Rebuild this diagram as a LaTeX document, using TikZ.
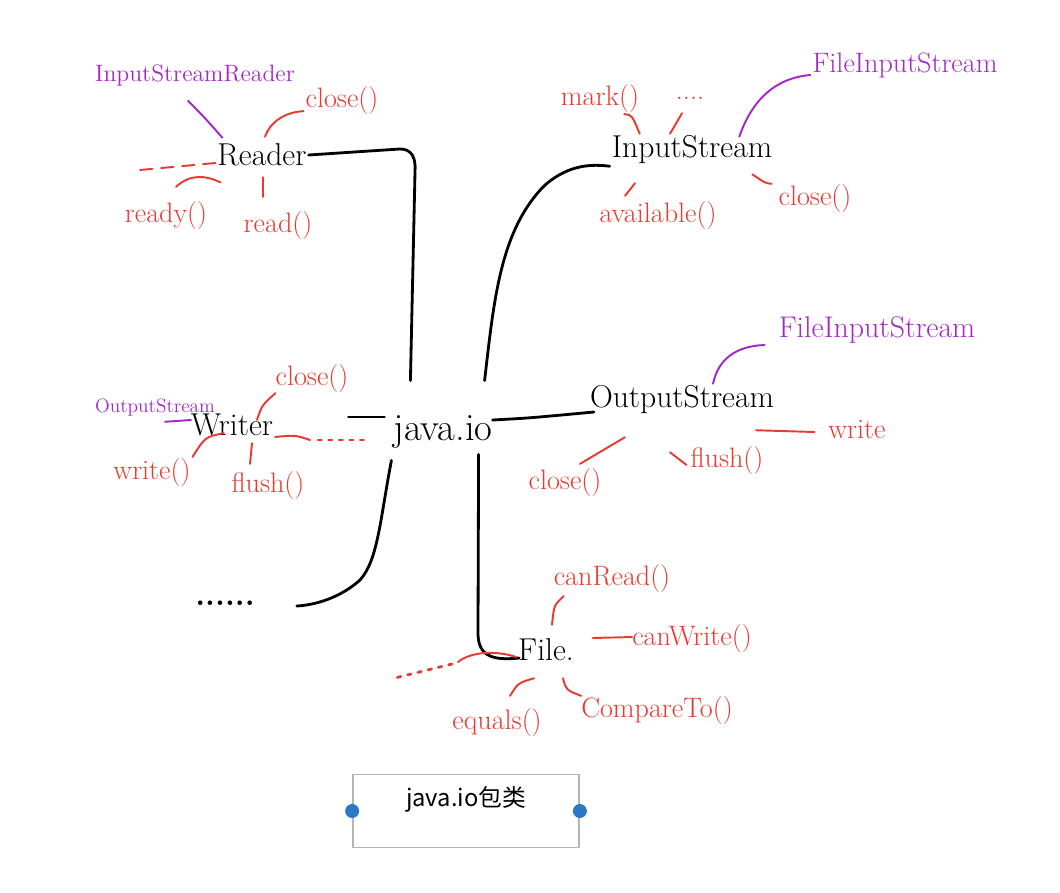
\documentclass[tikz,border=0pt]{standalone}
\usepackage{fontspec}
\newfontfamily\cjk{Noto Sans CJK SC}
\usetikzlibrary{calc}
\definecolor{hred}{RGB}{232,58,48}
\definecolor{hpurple}{RGB}{162,40,200}
\definecolor{boxgray}{RGB}{180,180,180}
\definecolor{dotblue}{RGB}{42,120,200}

\begin{document}
\begin{tikzpicture}[x=0.02cm, y=-0.02cm, line join=round, line cap=round,
    main/.style={font=\fontsize{18}{20}\selectfont, inner sep=1pt},
    meth/.style={text=hred, font=\fontsize{16}{18}\selectfont, inner sep=1pt},
    sub/.style={text=hpurple, font=\fontsize{15}{17}\selectfont, inner sep=1pt},
    blk/.style={line width=1.6pt},
    rl/.style={hred, line width=1.1pt},
    pl/.style={hpurple, line width=1.1pt},
    dotted red/.style={hred, line width=1.6pt, dash pattern=on 2pt off 4pt}]
\useasboundingbox (0,0) rectangle (1060,892);

% centre and its branches
\node[main, font=\fontsize{22}{24}\selectfont] (java) at (443,432) {java.io};
\node[main] (reader) at (262,155) {Reader};
\node[main] (instream) at (692,150) {InputStream};
\node[main] (outstream) at (682,400) {OutputStream};
\node[main] (writer) at (232,425) {Writer};
\node[main, font=\bfseries\fontsize{18}{20}\selectfont] (more) at (225,603) {......};
\node[main] (file) at (546,650) {File.};

\draw[blk] (reader.east) -- (400,149) .. controls (412,149) and (416,158) .. (415,172)
  -- ($(java.north west)+(19,-33)$);
\draw[blk] ($(java.north east)+(-10,-33)$) .. controls (494,300) and (500,230) .. (545,185)
  .. controls (565,168) and (585,163) .. (instream.south west);
\draw[blk] ($(java.east)+(-2,-12)$) .. controls (530,418) .. ($(outstream.west)+(6,12)$);
\draw[blk] ($(java.west)+(-7,-15)$) -- ($(java.west)+(-43,-15)$);
\draw[blk] ($(java.south west)+(0,10)$) .. controls (380,520) and (378,560) .. (360,580)
  .. controls (340,598) and (315,605) .. ($(more.east)+(40,3)$);
\draw[blk] ($(java.south east)+(-16,4)$) -- (478,630) .. controls (477,655) and (490,661)
  .. ($(file.west)+(3,8)$);

% Reader
\node[meth] (rclose) at (342,100) {close()};
\node[meth] (rready) at (166,215) {ready()};
\node[meth] (rread) at (278,225) {read()};
\node[sub, font=\fontsize{13.5}{15}\selectfont] (rsub) at (195,75) {InputStreamReader};
\coordinate (rdots) at (140,170);
\draw[rl] ($(reader.north)+(3,-5)$) .. controls (270,122) and (285,112) .. ($(rclose.south west)+(0,-5)$);
\draw[rl] ($(reader.south west)+(5,14)$) .. controls (205,175) and (190,174) .. ($(rready.north)+(10,-12)$);
\draw[rl] ($(reader.south)+(1,9)$) -- ($(rread.north)+(-15,-12)$);
\draw[rl, dash pattern=on 7pt off 5pt] ($(reader.west)+(0,8)$) -- (rdots);
\draw[pl] ($(reader.north west)+(7,-4)$) .. controls (205,118) .. ($(rsub.south)+(-7,13)$);

% InputStream
\node[meth] (imark) at (600,98) {mark()};
\node[meth] (idots) at (690,98) {....};
\node[sub, font=\fontsize{16}{18}\selectfont] (isub) at (905,65) {FileInputStream};
\node[meth] (iavail) at (658,215) {available()};
\node[meth] (iclose) at (815,198) {close()};
\draw[rl] ($(instream.north west)+(30,0)$) .. controls (632,115) .. ($(imark.south east)+(-17,0)$);
\draw[rl] ($(instream.north)+(-22,0)$) -- ($(idots.south)+(-8,12)$);
\draw[pl] ($(instream.north east)+(-35,3)$) .. controls (752,100) and (775,78) .. ($(isub.west)+(0,10)$);
\draw[rl] ($(instream.south)+(-57,17)$) -- ($(iavail.north)+(-33,-3)$);
\draw[rl] ($(instream.south east)+(-22,8)$) .. controls (765,183) .. ($(iclose.north west)+(-5,2)$);

% OutputStream
\node[sub, font=\fontsize{17}{19}\selectfont] (osub) at (877,330) {FileInputStream};
\node[meth] (oclose) at (565,482) {close()};
\node[meth] (oflush) at (727,460) {flush()};
\node[meth] (owrite) at (857,430) {write};
\draw[pl] ($(outstream.north)+(31,0)$) .. controls (718,360) and (735,346) .. ($(osub.west)+(-12,15)$);
\draw[rl] ($(outstream.south west)+(37,21)$) -- ($(oclose.north)+(15,-2)$);
\draw[rl] ($(outstream.south)+(-12,36)$) -- ($(oflush.west)+(-2,5)$);
\draw[rl] ($(outstream.south east)+(-20,14)$) -- ($(owrite.west)+(-12,2)$);

% Writer
\node[sub, font=\fontsize{11}{13}\selectfont] (wsub) at (155,408) {OutputStream};
\node[meth] (wclose) at (312,378) {close()};
\node[meth] (wwrite) at (152,472) {write()};
\node[meth] (wflush) at (268,485) {flush()};
\coordinate (wdots) at (368,440);
\draw[pl] ($(writer.west)+(2,-5)$) -- ($(wsub.south)+(10,3)$);
\draw[rl] ($(writer.north)+(25,8)$) .. controls (262,405) .. ($(wclose.south west)+(2,-1)$);
\draw[rl] ($(writer.south west)+(35,-5)$) .. controls (205,437) .. ($(wwrite.north east)+(0,1)$);
\draw[rl] ($(writer.south)+(20,5)$) -- ($(wflush.north)+(-18,-5)$);
\draw[rl] ($(writer.east)+(0,12)$) .. controls (295,435) .. (310,440);
\draw[dotted red] (318,440) -- (wdots);

% File
\node[meth] (fread) at (612,578) {canRead()};
\node[meth] (fwrite) at (692,638) {canWrite()};
\node[meth] (fcmp) at (657,710) {CompareTo()};
\node[meth] (feq) at (497,722) {equals()};
\coordinate (fdots) at (395,678);
\draw[rl] ($(file.north)+(6,-12)$) .. controls (554,605) .. ($(fread.south west)+(12,2)$);
\draw[rl] ($(file.east)+(17,-12)$) -- ($(fwrite.west)+(2,-1)$);
\draw[rl] ($(file.south)+(17,15)$) .. controls (566,690) .. ($(fcmp.north west)+(2,2)$);
\draw[rl] ($(file.south west)+(18,15)$) .. controls (518,683) .. ($(feq.north)+(13,-10)$);
\draw[rl] ($(file.west)+(0,7)$) .. controls (495,650) and (470,652) .. (458,662);
\draw[dotted red] (452,664) -- (fdots);

% caption box
\node[draw=boxgray, line width=1pt, minimum width=4.52cm, minimum height=1.46cm,
  text depth=16pt, font=\cjk\fontsize{13.5}{15}\selectfont] (caption) at (466,811) {java.io包类};
\fill[dotblue] (caption.west) circle (0.14cm);
\fill[dotblue] (caption.east) circle (0.14cm);
\end{tikzpicture}
\end{document}
